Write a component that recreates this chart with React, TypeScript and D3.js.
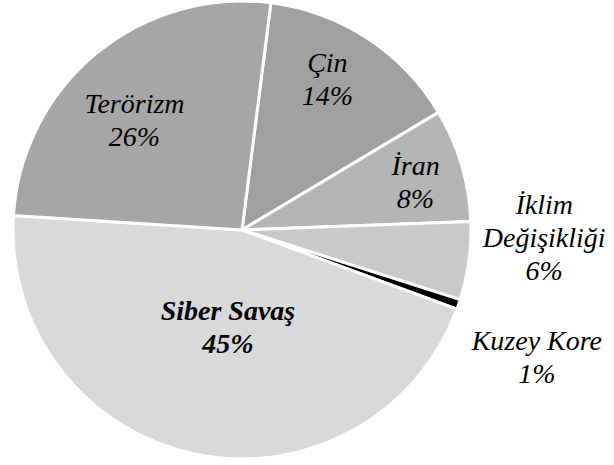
import React from "react";
import * as d3 from "d3";

const categories = ["Çin", "İran", "İklim Değişikliği", "Kuzey Kore", "Siber Savaş", "Terörizm"];
const values = [14.4, 8.0, 5.5, 0.7, 45.4, 26.0];
const labelLines = [["Çin"], ["İran"], ["İklim", "Değişikliği"], ["Kuzey Kore"], ["Siber Savaş"], ["Terörizm"]];
const colors = ["#a0a0a0", "#b5b5b5", "#c9c9c9", "#000000", "#d9d9d9", "#a6a6a6"];
const boldFlags = [false, false, false, false, true, false];

// label placement: [angle in degrees clockwise from top, distance as fraction of radius]
const labelPlacement: [number, number][] = [
  [29.5, 0.757],
  [74.6, 0.786],
  [91.5, 1.32],
  [113.4, 1.403],
  [188.2, 0.43],
  [315.5, 0.67],
];

const W = 614;
const H = 465;
const cx = 242;
const cy = 230;
const R = 229;
const startDeg = 7.25;
const fontSize = 28;
const lineH = 33;

export default function App() {
  const pie = d3
    .pie<number>()
    .sort(null)
    .startAngle((startDeg * Math.PI) / 180)
    .endAngle((startDeg * Math.PI) / 180 + 2 * Math.PI)
    .value((d) => d);
  const arcs = pie(values);
  const arc = d3.arc<d3.PieArcDatum<number>>().innerRadius(0).outerRadius(R);

  return (
    <svg width={W} height={H} style={{ position: "absolute", left: 0, top: 0, background: "#fff" }}>
      <g transform={`translate(${cx},${cy})`}>
        {arcs.map((a, i) => (
          <path key={i} d={arc(a) || ""} fill={colors[i]} stroke="#fff" strokeWidth={3} strokeLinejoin="round">
            <title>{categories[i]}</title>
          </path>
        ))}
        {arcs.map((a, i) => {
          const [ang, dist] = labelPlacement[i];
          const t = (ang * Math.PI) / 180;
          const x = Math.sin(t) * dist * R;
          const y = -Math.cos(t) * dist * R;
          const lines = [...labelLines[i], `${Math.round(values[i])}%`];
          const n = lines.length;
          return (
            <text
              key={"l" + i}
              textAnchor="middle"
              fontSize={fontSize}
              style={{
                fontFamily: "Liberation Serif, Times New Roman, serif",
                fontStyle: "italic",
                fontWeight: boldFlags[i] ? 700 : 400,
              }}
              fill="#000"
            >
              {lines.map((ln, j) => (
                <tspan key={j} x={x} y={y + (j - (n - 1) / 2) * lineH + 9}>
                  {ln}
                </tspan>
              ))}
            </text>
          );
        })}
      </g>
    </svg>
  );
}
